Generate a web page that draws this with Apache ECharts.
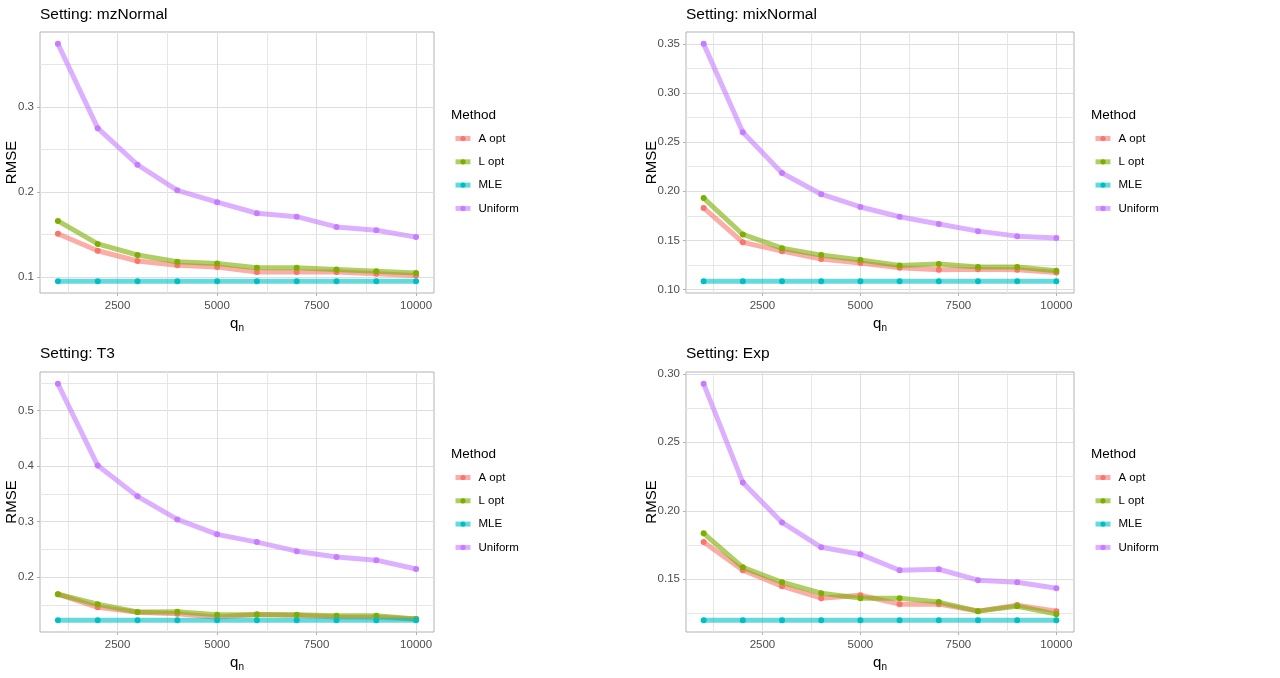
<!DOCTYPE html>
<html lang="en">
  <head>
    <meta charset="UTF-8" />
    <meta name="viewport" content="width=device-width, initial-scale=1.0" />
    <title>RMSE vs q_n</title>
    <script src="https://cdn.jsdelivr.net/npm/echarts@6/dist/echarts.min.js"></script>
    <style>
      html, body { margin: 0; padding: 0; background: #fff; }
    </style>
  </head>
  <body>
    <div id="main" style="width: 1280px; height: 678px"></div>
    <script>
      // x values (subsample size)
      var qn = [1000, 2000, 3000, 4000, 5000, 6000, 7000, 8000, 9000, 10000];
      var methods = ['A opt', 'L opt', 'MLE', 'Uniform'];
      var colors = ['#F8766D', '#7CAE00', '#00BFC4', '#C77CFF'];

      // Setting: mzNormal
      var mzA = [0.151, 0.131, 0.119, 0.114, 0.112, 0.106, 0.106, 0.106, 0.104, 0.102];
      var mzL = [0.166, 0.139, 0.126, 0.118, 0.116, 0.111, 0.111, 0.109, 0.107, 0.105];
      var mzMLE = [0.0953, 0.0953, 0.0953, 0.0953, 0.0953, 0.0953, 0.0953, 0.0953, 0.0953, 0.0953];
      var mzUnif = [0.374, 0.275, 0.232, 0.202, 0.188, 0.175, 0.171, 0.159, 0.155, 0.147];

      // Setting: mixNormal
      var mixA = [0.183, 0.148, 0.139, 0.131, 0.127, 0.122, 0.120, 0.1207, 0.120, 0.1173];
      var mixL = [0.193, 0.156, 0.142, 0.135, 0.130, 0.1245, 0.126, 0.123, 0.123, 0.119];
      var mixMLE = [0.1085, 0.1085, 0.1085, 0.1085, 0.1085, 0.1085, 0.1085, 0.1085, 0.1085, 0.1085];
      var mixUnif = [0.350, 0.260, 0.2186, 0.197, 0.184, 0.174, 0.1666, 0.1594, 0.1543, 0.1523];

      // Setting: T3
      var t3A = [0.169, 0.1455, 0.1366, 0.1336, 0.1276, 0.133, 0.131, 0.128, 0.1276, 0.1245];
      var t3L = [0.169, 0.151, 0.137, 0.1375, 0.1318, 0.1318, 0.1318, 0.130, 0.130, 0.1245];
      var t3MLE = [0.1222, 0.1222, 0.1222, 0.1222, 0.1222, 0.1222, 0.1222, 0.1222, 0.1222, 0.1222];
      var t3Unif = [0.5485, 0.401, 0.3455, 0.304, 0.277, 0.263, 0.2467, 0.236, 0.2305, 0.2144];

      // Setting: Exp
      var expA = [0.1772, 0.1566, 0.1449, 0.1362, 0.1383, 0.1318, 0.1318, 0.1267, 0.1311, 0.1267];
      var expL = [0.1835, 0.1587, 0.1478, 0.1398, 0.1362, 0.1362, 0.1333, 0.1267, 0.1303, 0.1245];
      var expMLE = [0.1201, 0.1201, 0.1201, 0.1201, 0.1201, 0.1201, 0.1201, 0.1201, 0.1201, 0.1201];
      var expUnif = [0.2927, 0.2206, 0.1915, 0.1733, 0.1682, 0.1566, 0.1573, 0.1493, 0.1478, 0.1434];

      // tick labels
      var xTicks = [2500, 5000, 7500, 10000];
      var xMinor = [1250, 3750, 6250, 8750];
      var mzTicks = [0.1, 0.2, 0.3];
      var mzMinor = [0.15, 0.25, 0.35];
      var mixTicks = [0.1, 0.15, 0.2, 0.25, 0.3, 0.35];
      var mixMinor = [0.125, 0.175, 0.225, 0.275, 0.325];
      var t3Ticks = [0.2, 0.3, 0.4, 0.5];
      var t3Minor = [0.15, 0.25, 0.35, 0.45, 0.55];
      var expTicks = [0.15, 0.2, 0.25, 0.3];
      var expMinor = [0.125, 0.175, 0.225, 0.275];

      var panels = [
        { title: 'Setting: mzNormal', series: [mzA, mzL, mzMLE, mzUnif], ticks: mzTicks, minor: mzMinor, digits: 1 },
        { title: 'Setting: mixNormal', series: [mixA, mixL, mixMLE, mixUnif], ticks: mixTicks, minor: mixMinor, digits: 2 },
        { title: 'Setting: T3', series: [t3A, t3L, t3MLE, t3Unif], ticks: t3Ticks, minor: t3Minor, digits: 1 },
        { title: 'Setting: Exp', series: [expA, expL, expMLE, expUnif], ticks: expTicks, minor: expMinor, digits: 2 }
      ];

      // layout of the 2x2 facets (pixels)
      var layout = [
        { left: 40, top: 32, right: 846, bottom: 385, titleTop: 7, legLeft: 451, legTop: 108, nameGap: 21 },
        { left: 686, top: 32, right: 206, bottom: 385, titleTop: 7, legLeft: 1091, legTop: 108, nameGap: 27 },
        { left: 40, top: 372, right: 846, bottom: 46, titleTop: 346, legLeft: 451, legTop: 447, nameGap: 21 },
        { left: 686, top: 372, right: 206, bottom: 46, titleTop: 346, legLeft: 1091, legTop: 447, nameGap: 27 }
      ];

      var font = 'Liberation Sans, Arial, sans-serif';

      // ggplot style 5% expansion
      function expand(lo, hi) {
        var r = hi - lo;
        return [lo - 0.05 * r, hi + 0.05 * r];
      }

      var xRange = expand(qn[0], qn[qn.length - 1]);

      var grids = [], xAxes = [], yAxes = [], titles = [], legends = [], series = [];

      panels.forEach(function (p, i) {
        var L = layout[i];
        var all = [].concat.apply([], p.series);
        var yRange = expand(Math.min.apply(null, all), Math.max.apply(null, all));

        grids.push({
          left: L.left, top: L.top, right: L.right, bottom: L.bottom,
          show: true, backgroundColor: '#fff', borderColor: '#B3B3B3', borderWidth: 1
        });

        xAxes.push({
          type: 'value', gridIndex: i, min: xRange[0], max: xRange[1],
          name: '{q|q}{n|n}', nameLocation: 'middle', nameGap: 21, nameMoveOverlap: false,
          nameTextStyle: {
            rich: {
              q: { fontSize: 15, color: '#000', fontFamily: font },
              n: { fontSize: 10, color: '#000', fontFamily: font, padding: [9, 0, 0, 0] }
            }
          },
          axisLine: { show: false },
          axisTick: { show: true, length: 3, customValues: xTicks, lineStyle: { color: '#B3B3B3' } },
          axisLabel: {
            customValues: xTicks, margin: 7, fontSize: 11.5, color: '#4D4D4D', fontFamily: font,
            formatter: function (v) { return String(v); }
          },
          splitLine: { show: true, lineStyle: { color: '#DEDEDE', width: 1 } },
          minorTick: { show: false },
          minorSplitLine: { show: false }
        });
        // second hidden x axis only for the minor grid lines
        xAxes.push({
          type: 'value', gridIndex: i, min: xRange[0], max: xRange[1], position: 'bottom',
          axisLine: { show: false }, axisLabel: { show: false },
          axisTick: { show: false, customValues: xMinor },
          splitLine: { show: true, lineStyle: { color: '#E6E6E6', width: 1 } }
        });

        yAxes.push({
          type: 'value', gridIndex: i, min: yRange[0], max: yRange[1],
          name: 'RMSE', nameLocation: 'middle', nameGap: L.nameGap, nameMoveOverlap: false,
          nameTextStyle: { fontSize: 15, color: '#000', fontFamily: font },
          axisLine: { show: false },
          axisTick: { show: true, length: 3, customValues: p.ticks, lineStyle: { color: '#B3B3B3' } },
          axisLabel: {
            customValues: p.ticks, margin: 6, fontSize: 11.5, color: '#4D4D4D', fontFamily: font,
            formatter: function (v) { return v.toFixed(p.digits); }
          },
          splitLine: { show: true, lineStyle: { color: '#DEDEDE', width: 1 } }
        });
        yAxes.push({
          type: 'value', gridIndex: i, min: yRange[0], max: yRange[1],
          axisLine: { show: false }, axisLabel: { show: false },
          axisTick: { show: false, customValues: p.minor },
          splitLine: { show: true, lineStyle: { color: '#E6E6E6', width: 1 } }
        });

        titles.push({
          text: p.title, left: L.left, top: L.titleTop, padding: 0,
          textStyle: { fontSize: 15.5, fontWeight: 'normal', color: '#000', fontFamily: font }
        });
        titles.push({
          text: 'Method', left: L.legLeft, top: L.legTop, padding: 0,
          textStyle: { fontSize: 13.5, fontWeight: 'normal', color: '#000', fontFamily: font }
        });

        legends.push({
          data: methods, orient: 'vertical', left: L.legLeft + 2, top: L.legTop + 24.5, padding: 0,
          itemWidth: 15, itemHeight: 6.5, itemGap: 11.3, selectedMode: false,
          lineStyle: { width: 5 },
          textStyle: { fontSize: 11.5, lineHeight: 12, color: '#000', fontFamily: font, padding: [0, 0, 0, 3] }
        });

        p.series.forEach(function (vals, j) {
          var pts = qn.map(function (x, k) { return [x, vals[k]]; });
          series.push({
            name: methods[j], type: 'line', xAxisIndex: i * 2, yAxisIndex: i * 2,
            data: pts, symbol: 'circle', symbolSize: 5, showSymbol: false,
            lineStyle: { width: 5, color: colors[j], opacity: 0.6 },
            itemStyle: { color: colors[j] },
            emphasis: { disabled: true }, silent: true, z: 2
          });
        });
        p.series.forEach(function (vals, j) {
          var pts = qn.map(function (x, k) { return [x, vals[k]]; });
          series.push({
            name: methods[j], type: 'scatter', xAxisIndex: i * 2, yAxisIndex: i * 2,
            data: pts, symbol: 'circle', symbolSize: 6,
            itemStyle: { color: colors[j], opacity: 1 },
            emphasis: { disabled: true }, silent: true, z: 3
          });
        });
      });

      var mCharts = echarts.init(document.getElementById('main'));
      mCharts.setOption({
        animation: false,
        backgroundColor: '#fff',
        title: titles,
        legend: legends,
        grid: grids,
        xAxis: xAxes,
        yAxis: yAxes,
        series: series
      });
    </script>
  </body>
</html>
